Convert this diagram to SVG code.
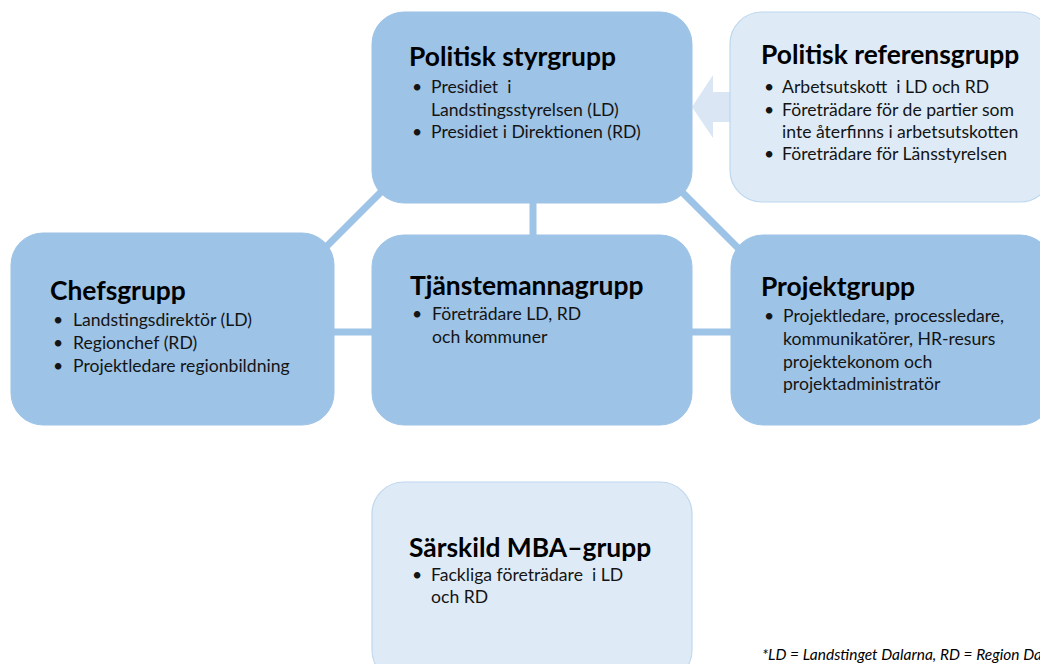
<svg xmlns="http://www.w3.org/2000/svg" width="1040" height="664" viewBox="0 0 1040 664">
<style>
.dark{fill:#9DC3E6;stroke:#9DC3E6;stroke-width:1}
.light{fill:#DEEBF7;stroke:#BDD7EE;stroke-width:1.2}
.conn{stroke:#9DC3E6;stroke-width:7;fill:none}
.t{font-family:Lato,"Open Sans","Liberation Sans",sans-serif;font-weight:bold;font-size:26.4px;fill:#000}
.b{font-family:Lato,"Open Sans","Liberation Sans",sans-serif;font-size:17.6px;fill:#141414;white-space:pre}
.fn{font-family:Lato,"Open Sans","Liberation Sans",sans-serif;font-style:italic;font-size:15.5px;fill:#000}
</style>
<rect width="1040" height="664" fill="#fff"/>
<g id="connectors">
<line class="conn" x1="383" y1="190" x2="313" y2="260"/>
<line class="conn" x1="680" y1="190" x2="750" y2="260"/>
<line class="conn" x1="533" y1="198" x2="533" y2="240"/>
<line class="conn" x1="330" y1="332" x2="376" y2="332"/>
<line class="conn" x1="688" y1="332" x2="735" y2="332"/>
<polygon points="692,107 713,75 713,92 731,92 731,122 713,122 713,138" fill="#DAE6F3"/>
</g>
<g id="politisk-styrgrupp">
<rect class="dark" x="372" y="12" width="320" height="191" rx="32"/>
<text class="t" x="409" y="66">Politisk styrgrupp</text>
<text class="b" x="412" y="93">•</text>
<text class="b" x="431" y="93">Presidiet  i</text>
<text class="b" x="431" y="116">Landstingsstyrelsen (LD)</text>
<text class="b" x="412" y="138">•</text>
<text class="b" x="431" y="138">Presidiet i Direktionen (RD)</text>
</g>
<g id="politisk-referensgrupp">
<rect class="light" x="730" y="12" width="322" height="190" rx="32"/>
<text class="t" x="761" y="64">Politisk referensgrupp</text>
<text class="b" x="764" y="93">•</text>
<text class="b" x="782" y="93">Arbetsutskott  i LD och RD</text>
<text class="b" x="764" y="116">•</text>
<text class="b" x="782" y="116">Företrädare för de partier som</text>
<text class="b" x="782" y="138">inte återfinns i arbetsutskotten</text>
<text class="b" x="764" y="160">•</text>
<text class="b" x="782" y="160">Företrädare för Länsstyrelsen</text>
</g>
<g id="chefsgrupp">
<rect class="dark" x="11" y="233" width="323" height="192" rx="32"/>
<text class="t" x="50" y="300">Chefsgrupp</text>
<text class="b" x="53" y="326">•</text>
<text class="b" x="73" y="326">Landstingsdirektör (LD)</text>
<text class="b" x="53" y="349">•</text>
<text class="b" x="73" y="349">Regionchef (RD)</text>
<text class="b" x="53" y="372">•</text>
<text class="b" x="73" y="372">Projektledare regionbildning</text>
</g>
<g id="tjanstemannagrupp">
<rect class="dark" x="372" y="235" width="320" height="190" rx="32"/>
<text class="t" x="410" y="295">Tjänstemannagrupp</text>
<text class="b" x="412" y="320">•</text>
<text class="b" x="432" y="320">Företrädare LD, RD</text>
<text class="b" x="432" y="343">och kommuner</text>
</g>
<g id="projektgrupp">
<rect class="dark" x="731" y="235" width="321" height="190" rx="32"/>
<text class="t" x="761" y="296">Projektgrupp</text>
<text class="b" x="764" y="322">•</text>
<text class="b" x="783" y="322">Projektledare, processledare,</text>
<text class="b" x="783" y="345">kommunikatörer, HR-resurs</text>
<text class="b" x="783" y="368">projektekonom och</text>
<text class="b" x="783" y="390">projektadministratör</text>
</g>
<g id="sarskild-mba-grupp">
<rect class="light" x="372" y="482" width="320" height="200" rx="32"/>
<text class="t" x="409" y="557">Särskild MBA–grupp</text>
<text class="b" x="412" y="581">•</text>
<text class="b" x="431" y="581">Fackliga företrädare  i LD</text>
<text class="b" x="431" y="603">och RD</text>
</g>
<text class="fn" x="762" y="660">*LD = Landstinget Dalarna, RD = Region Dalarna</text>
</svg>
